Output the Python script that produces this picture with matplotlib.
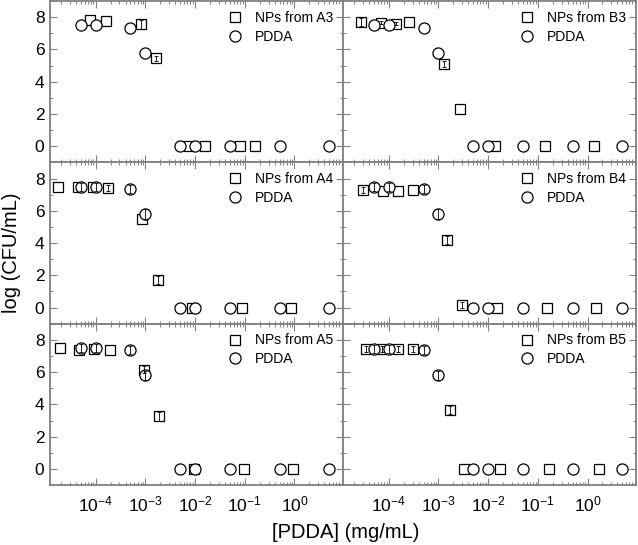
import matplotlib
matplotlib.use("Agg")
import matplotlib.pyplot as plt

plt.rcParams['font.family'] = ['Liberation Sans', 'DejaVu Sans']
plt.rcParams['mathtext.fontset'] = 'custom'
plt.rcParams['mathtext.rm'] = 'Liberation Sans'

# PDDA concentrations (same for every panel)
pdda_x = [5e-5, 1e-4, 5e-4, 1e-3, 5e-3, 1e-2, 5e-2, 5e-1, 5]

# A3 / B3 / A4 / B4 / A5 / B5 panels
labels = ['A3', 'B3', 'A4', 'B4', 'A5', 'B5']

np_x_a3 = [7.8e-5, 1.6e-4, 8e-4, 1.6e-3, 7.6e-3, 1.6e-2, 8e-2, 1.6e-1]
np_y_a3 = [7.8, 7.75, 7.55, 5.45, 0, 0, 0, 0]
np_e_a3 = [0, 0, 0.25, 0.15, 0, 0, 0, 0]
pd_y_a3 = [7.5, 7.5, 7.35, 5.8, 0, 0, 0, 0, 0]
pd_e_a3 = [0, 0, 0, 0, 0, 0, 0, 0, 0]

np_x_b3 = [2.75e-5, 6.9e-5, 1.4e-4, 2.6e-4, 1.3e-3, 2.75e-3, 1.4e-2, 0.14, 1.35]
np_y_b3 = [7.7, 7.65, 7.6, 7.7, 5.1, 2.3, 0, 0, 0]
np_e_b3 = [0.25, 0.1, 0.1, 0, 0.2, 0, 0, 0, 0]
pd_y_b3 = [7.5, 7.5, 7.35, 5.8, 0, 0, 0, 0, 0]
pd_e_b3 = [0, 0, 0, 0, 0, 0, 0, 0, 0]

np_x_a4 = [1.75e-5, 4.3e-5, 8.7e-5, 1.75e-4, 8.7e-4, 1.75e-3, 8.7e-3, 8.7e-2, 0.87]
np_y_a4 = [7.5, 7.45, 7.45, 7.4, 5.5, 1.7, 0, 0, 0]
np_e_a4 = [0, 0, 0, 0.2, 0, 0.25, 0, 0, 0]
pd_y_a4 = [7.45, 7.45, 7.35, 5.8, 0, 0, 0, 0, 0]
pd_e_a4 = [0.25, 0.25, 0.25, 0.3, 0, 0, 0, 0, 0]

np_x_b4 = [3e-5, 7.5e-5, 1.5e-4, 3e-4, 1.5e-3, 3e-3, 1.5e-2, 0.15, 1.5]
np_y_b4 = [7.3, 7.25, 7.25, 7.3, 4.2, 0.15, 0, 0, 0]
np_e_b4 = [0.2, 0, 0, 0, 0.25, 0.2, 0, 0, 0]
pd_y_b4 = [7.5, 7.5, 7.35, 5.8, 0, 0, 0, 0, 0]
pd_e_b4 = [0.25, 0.25, 0.25, 0.3, 0, 0, 0, 0, 0]

np_x_a5 = [1.9e-5, 4.6e-5, 9.2e-5, 1.9e-4, 9.5e-4, 1.9e-3, 9.5e-3, 9.5e-2, 0.95]
np_y_a5 = [7.5, 7.4, 7.45, 7.4, 6.15, 3.25, 0, 0, 0]
np_e_a5 = [0, 0, 0, 0, 0.2, 0.25, 0, 0, 0]
pd_y_a5 = [7.5, 7.5, 7.4, 5.8, 0, 0, 0, 0, 0]
pd_e_a5 = [0.25, 0.25, 0.25, 0.3, 0, 0, 0, 0, 0]

np_x_b5 = [3.5e-5, 7.2e-5, 1.5e-4, 3e-4, 1.7e-3, 3.3e-3, 1.7e-2, 0.17, 1.7]
np_y_b5 = [7.45, 7.45, 7.45, 7.45, 3.65, 0, 0, 0, 0]
np_e_b5 = [0.2, 0.2, 0.2, 0.2, 0.25, 0, 0, 0, 0]
pd_y_b5 = [7.45, 7.45, 7.35, 5.8, 0, 0, 0, 0, 0]
pd_e_b5 = [0.25, 0.25, 0.25, 0.3, 0, 0, 0, 0, 0]

panels = [
    (np_x_a3, np_y_a3, np_e_a3, pd_y_a3, pd_e_a3),
    (np_x_b3, np_y_b3, np_e_b3, pd_y_b3, pd_e_b3),
    (np_x_a4, np_y_a4, np_e_a4, pd_y_a4, pd_e_a4),
    (np_x_b4, np_y_b4, np_e_b4, pd_y_b4, pd_e_b4),
    (np_x_a5, np_y_a5, np_e_a5, pd_y_a5, pd_e_a5),
    (np_x_b5, np_y_b5, np_e_b5, pd_y_b5, pd_e_b5),
]

grey = '#808080'


def bars(ax, x, y, e):
    # only points that actually have an error value get a bar
    pts = [(a, b, c) for a, b, c in zip(x, y, e) if c > 0]
    if not pts:
        return
    xs, ys, es = zip(*pts)
    ax.errorbar(xs, ys, yerr=es, fmt='none', ecolor='black', elinewidth=0.6,
                capsize=1.5, capthick=0.6, zorder=6)


fig, axes = plt.subplots(3, 2, figsize=(6.38, 5.45), dpi=100, sharex=True, sharey=True)
fig.subplots_adjust(left=0.0784, right=0.997, bottom=0.110, top=0.998,
                    hspace=0, wspace=0)

for ax, lab, (nx, ny, ne, py, pe) in zip(axes.flat, labels, panels):
    ax.plot(nx, ny, 's', ms=7, mfc='white', mec='black', mew=0.9,
            ls='none', label='NPs from ' + lab, zorder=3)
    bars(ax, nx, ny, ne)
    ax.plot(pdda_x, py, 'o', ms=8, mfc='white', mec='black', mew=0.9,
            ls='none', label='PDDA', zorder=5)
    bars(ax, pdda_x, py, pe)

    ax.set_xscale('log')
    ax.set_xlim(1.2e-5, 9.5)
    ax.set_ylim(-1, 9)
    ax.set_yticks([0, 2, 4, 6, 8])
    ax.set_yticks([-1, 1, 3, 5, 7, 9], minor=True)
    ax.set_xticks([1e-4, 1e-3, 1e-2, 1e-1, 1e0])
    ax.tick_params(which='both', direction='in', top=True, right=True,
                   color=grey, labelsize=12.5, pad=4)
    ax.tick_params(axis='x', pad=7)
    ax.tick_params(which='major', length=5, width=0.8)
    ax.tick_params(which='minor', length=2.5, width=0.7)
    for sp in ax.spines.values():
        sp.set_color(grey)
        sp.set_linewidth(1.3)

    ax.legend(loc='upper right', frameon=False, fontsize=10,
              handletextpad=0.75, labelspacing=0.35, borderaxespad=0.3,
              handlelength=1.4)

fig.text(0.542, 0.005, '[PDDA] (mg/mL)', ha='center', va='bottom', fontsize=14.5)
fig.text(0.003, 0.536, 'log (CFU/mL)', rotation=90, ha='left', va='center', fontsize=14.5)

fig.savefig('out.png', dpi=100)
